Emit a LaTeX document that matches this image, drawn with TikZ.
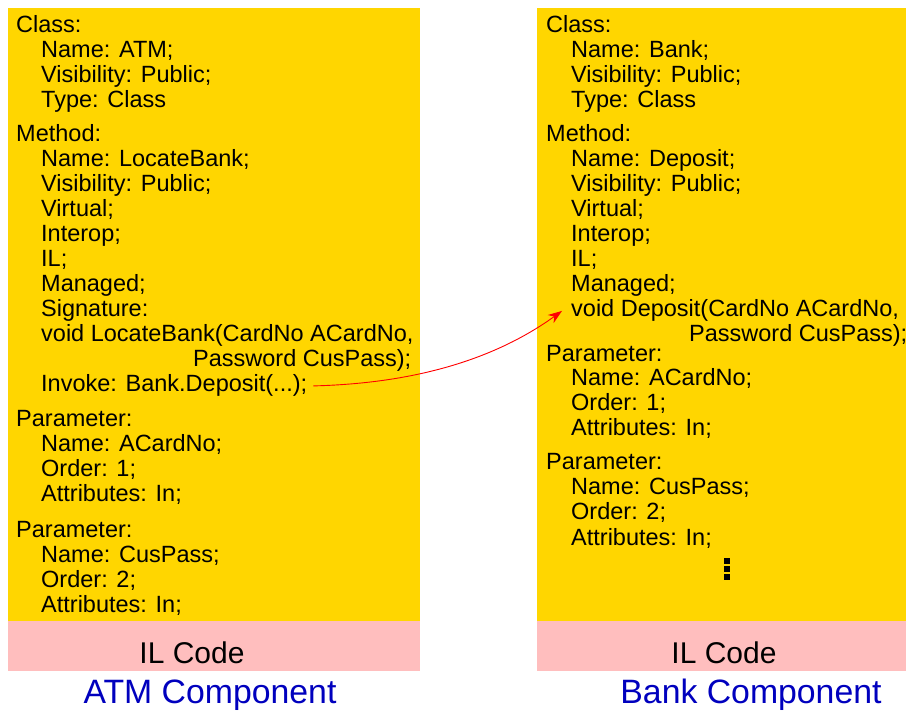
\documentclass[tikz,border=0pt]{standalone}
\usepackage{fontspec}
\setmainfont{Liberation Sans}
\usetikzlibrary{arrows.meta}

\definecolor{ilyellow}{RGB}{255,214,0}
\definecolor{ilpink}{RGB}{255,190,190}
\definecolor{compblue}{RGB}{0,0,190}

\tikzset{
  codeline/.style={anchor=base west, inner sep=0pt, font=\fontsize{23.5}{25}\selectfont},
  ilcode/.style={anchor=base, inner sep=0pt, font=\fontsize{30}{32}\selectfont},
  comptitle/.style={anchor=base, inner sep=0pt, text=compblue, font=\fontsize{33.8}{36}\selectfont},
}

\begin{document}
\begin{tikzpicture}[x=1pt,y=-1pt]
    \useasboundingbox (0,0) rectangle (906,711);

    % the two components
    \fill[ilyellow] (8,8) rectangle (420,621);
    \fill[ilpink] (8,621) rectangle (420,671);
    \fill[ilyellow] (537,8) rectangle (906,621);
    \fill[ilpink] (537,621) rectangle (906,671);

    % ATM metadata
    \foreach \x/\y/\txt [count=\i] in {16/33/Class:, 41/58/Name: ATM;, 41/83/Visibility: Public;, 41/108/Type: Class,
        16/142/Method:, 41/167/Name: LocateBank;, 41/192/Visibility: Public;, 41/217/Virtual;, 41/242/Interop;,
        41/267/IL;, 41/292/Managed;, 41/317/Signature:, 41/342/{void LocateBank(CardNo ACardNo,},
        193/367/{Password CusPass);},
        16/427/Parameter:, 41/452/Name: ACardNo;, 41/477/Order: 1;, 41/502/Attributes: In;,
        16/537/Parameter:, 41/562/Name: CusPass;, 41/587/Order: 2;, 41/612/Attributes: In;}
        \node[codeline] (atm\i) at (\x,\y) {\txt};
    \node[codeline] (invoke) at (41,392) {Invoke: Bank.Deposit(...);};

    % Bank metadata
    \foreach \x/\y/\txt [count=\i] in {546/33/Class:, 571/58/Name: Bank;, 571/83/Visibility: Public;, 571/108/Type: Class,
        546/142/Method:, 571/167/Name: Deposit;, 571/192/Visibility: Public;, 571/217/Virtual;, 571/242/Interop;,
        571/267/IL;, 571/292/Managed;, 689/342/{Password CusPass);},
        546/362/Parameter:, 571/386/Name: ACardNo;, 571/411/Order: 1;, 571/436/Attributes: In;,
        546/470/Parameter:, 571/495/Name: CusPass;, 571/520/Order: 2;, 571/545/Attributes: In;}
        \node[codeline] (bank\i) at (\x,\y) {\txt};
    \node[codeline] (deposit) at (571,317) {void Deposit(CardNo ACardNo,};
    \foreach \d in {561,569,577}
        \fill (723.5,\d-3) rectangle (729.5,\d+3);

    % footers
    \node[ilcode] (atmil) at (192,663) {IL Code};
    \node[ilcode] (bankil) at (724,663) {IL Code};
    \node[comptitle] (atmcomp) at (210,703) {ATM Component};
    \node[comptitle] (bankcomp) at (751,703) {Bank Component};

    \draw[red, line width=0.9pt, -{Stealth[length=14pt,width=10pt]}]
        ([xshift=6pt]invoke.east) .. controls (430,383) and (505,352) .. ([xshift=-9pt]deposit.west);
\end{tikzpicture}
\end{document}
